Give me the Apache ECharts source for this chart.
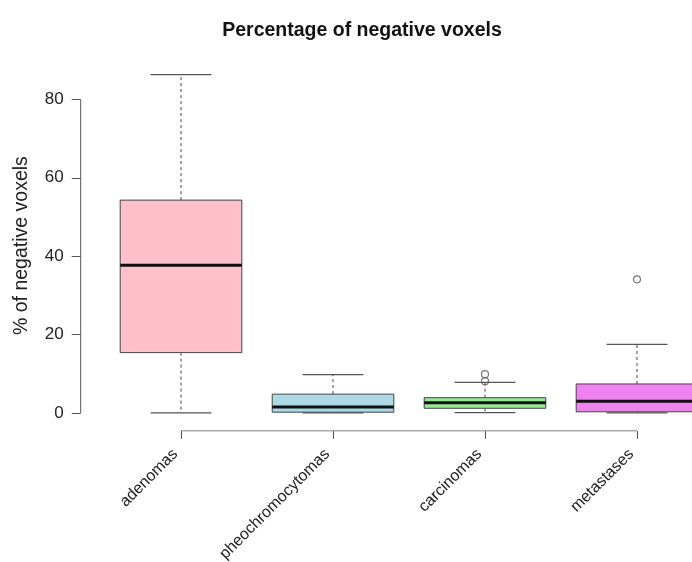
<!DOCTYPE html>
<html>
<head>
<meta charset="utf-8">
<script src="https://cdn.jsdelivr.net/npm/echarts@6/dist/echarts.min.js"></script>
<style>html,body{margin:0;padding:0;background:#fff}#c{width:692px;height:562px}</style>
</head>
<body>
<div id="c"></div>
<script>
// ---- data ----
const categories = ['adenomas', 'pheochromocytomas', 'carcinomas', 'metastases'];
const lowWhisker = [0, 0, 0.1, 0];
const q1 = [15.4, 0.2, 1.2, 0.3];
const median = [37.7, 1.5, 2.6, 3.0];
const q3 = [54.3, 4.8, 3.9, 7.4];
const highWhisker = [86.3, 9.8, 7.8, 17.5];
const outliers = [[3, 9.9], [3, 8.1], [4, 34.1]];
const boxColors = ['#FFC0CB', '#ADD8E6', '#90EE90', '#EE82EE'];
const yTicks = [0, 20, 40, 60, 80];
const xTicks = [1, 2, 3, 4];

const xMin = 0.34, xMax = 4.362, yMin = -4.6, yMax = 90;
const font = 'Liberation Sans, Arial, Helvetica, sans-serif';
const axisColor = '#555';

const boxData = categories.map((c, i) => [i + 1, lowWhisker[i], q1[i], median[i], q3[i], highWhisker[i], i]);

function renderBox(params, api) {
  const x = api.value(0), lo = api.value(1), a = api.value(2), m = api.value(3), b = api.value(4), hi = api.value(5);
  const idx = api.value(6);
  const hw = 0.4, cw = 0.2;
  const pc = function (xx, yy) { return api.coord([xx, yy]); };
  const pTL = pc(x - hw, b), pBR = pc(x + hw, a);
  const seg = function (p, q, style) {
    return { type: 'line', shape: { x1: p[0], y1: p[1], x2: q[0], y2: q[1] }, style: style };
  };
  const dashed = { stroke: '#444', lineWidth: 1, lineDash: [3, 3] };
  const cap = { stroke: '#555', lineWidth: 1.2 };
  return {
    type: 'group',
    children: [
      seg(pc(x, b), pc(x, hi), dashed),
      seg(pc(x, a), pc(x, lo), dashed),
      seg(pc(x - cw, hi), pc(x + cw, hi), cap),
      seg(pc(x - cw, lo), pc(x + cw, lo), cap),
      { type: 'rect', shape: { x: pTL[0], y: pTL[1], width: pBR[0] - pTL[0], height: pBR[1] - pTL[1] },
        style: { fill: boxColors[idx], stroke: '#444', lineWidth: 1 } },
      seg(pc(x - hw, m), pc(x + hw, m), { stroke: '#111', lineWidth: 3 })
    ]
  };
}

const chart = echarts.init(document.getElementById('c'), null, { renderer: 'canvas' });
chart.setOption({
  animation: false,
  backgroundColor: '#fff',
  title: {
    text: 'Percentage of negative voxels', left: 357, top: 16, textAlign: 'center',
    textStyle: { fontFamily: font, fontSize: 19.5, fontWeight: 'bold', color: '#111' }
  },
  grid: { left: 80.7, top: 60.2, right: 0, height: 370.8, containLabel: false, outerBoundsMode: 'none' },
  xAxis: {
    type: 'value', min: xMin, max: xMax,
    splitLine: { show: false }, axisLine: { show: false, onZero: false },
    axisTick: { show: true, customValues: xTicks, length: 8, lineStyle: { color: axisColor } },
    axisLabel: {
      customValues: xTicks, rotate: 45, margin: 15, padding: [0, 8, 0, 0],
      formatter: function (v) { return categories[Math.round(v) - 1] || ''; },
      fontFamily: font, fontSize: 16, color: '#222'
    }
  },
  yAxis: {
    type: 'value', min: yMin, max: yMax,
    name: '% of negative voxels', nameLocation: 'middle', nameRotate: 90, nameGap: 49,
    nameTextStyle: { fontFamily: font, fontSize: 19.5, color: '#222' },
    splitLine: { show: false }, axisLine: { show: false, onZero: false },
    axisTick: { show: true, customValues: yTicks, length: 9, lineStyle: { color: axisColor } },
    axisLabel: { customValues: yTicks, margin: 17, fontFamily: font, fontSize: 17, color: '#222' }
  },
  series: [
    {
      type: 'custom', renderItem: renderBox, data: boxData, silent: true,
      encode: { x: 0, y: [1, 2, 3, 4, 5] }, clip: false
    },
    {
      type: 'scatter', data: outliers, symbol: 'circle', symbolSize: 7, silent: true,
      itemStyle: { color: 'rgba(0,0,0,0)', borderColor: '#555', borderWidth: 1.2 }
    },
    {
      type: 'line', data: [[xMin, yTicks[0]], [xMin, yTicks[yTicks.length - 1]]], symbol: 'none', silent: true,
      lineStyle: { color: axisColor, width: 1 }
    },
    {
      type: 'line', data: [[xTicks[0], yMin], [xTicks[xTicks.length - 1], yMin]], symbol: 'none', silent: true,
      lineStyle: { color: axisColor, width: 1 }
    }
  ]
});
</script>
</body>
</html>
